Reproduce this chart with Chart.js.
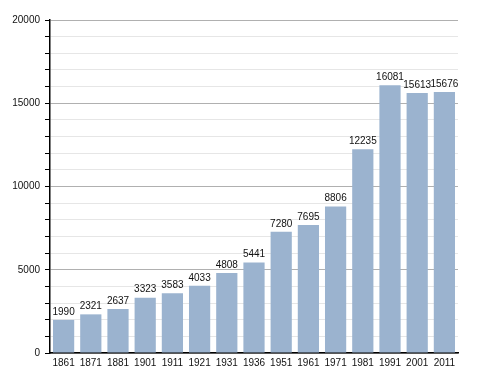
<!DOCTYPE html>
<html>
<head>
<meta charset="utf-8">
<script src="https://cdn.jsdelivr.net/npm/chart.js@4/dist/chart.umd.min.js"></script>
<style>
  html, body { margin: 0; padding: 0; background: #fff; }
  #wrap { width: 488px; height: 373px; }
</style>
</head>
<body>
<div id="wrap"><canvas id="canva1" width="488" height="373"></canvas></div>
<script>
const years = ['1861', '1871', '1881', '1901', '1911', '1921', '1931', '1936', '1951', '1961', '1971', '1981', '1991', '2001', '2011'];
const population = [1990, 2321, 2637, 3323, 3583, 4033, 4808, 5441, 7280, 7695, 8806, 12235, 16081, 15613, 15676];
const yMax = 20000;
const yMajor = 5000;
const yMinor = 1000;

var ctx1 = document.getElementById('canva1').getContext('2d');

// values written above each bar
const barLabels = {
    id: 'barLabels',
    afterDatasetsDraw(chart) {
        const c = chart.ctx;
        const meta = chart.getDatasetMeta(0);
        c.save();
        c.font = '10px "Liberation Sans", Arial, sans-serif';
        c.fillStyle = '#111';
        c.textAlign = 'center';
        c.textBaseline = 'bottom';
        meta.data.forEach((bar, i) => {
            c.fillText(String(population[i]), bar.x, bar.y - 3);
        });
        c.restore();
    }
};

const popChart = new Chart(ctx1, {
    type: 'bar',
    data: {
        labels: years,
        datasets: [{
            data: population,
            backgroundColor: '#9bb3cf',
            borderWidth: 0,
            barPercentage: 0.78,
            categoryPercentage: 1
        }]
    },
    options: {
        responsive: false,
        animation: false,
        layout: { padding: { top: 20, right: 30, left: 0, bottom: 0 } },
        plugins: { legend: { display: false }, tooltip: { enabled: false } },
        scales: {
            x: {
                grid: { display: false, drawTicks: false },
                border: { color: '#000', width: 1.5 },
                ticks: {
                    color: '#111',
                    font: { size: 10, family: '"Liberation Sans", Arial, sans-serif' },
                    padding: 4,
                    maxRotation: 0,
                    autoSkip: false
                },
                afterFit(scale) { scale.height = 20; }
            },
            y: {
                min: 0,
                max: yMax,
                border: { color: '#000', width: 1.5 },
                grid: {
                    color: (c) => (c.tick && c.tick.value % yMajor === 0) ? '#b0b0b0' : '#e6e6e6',
                    tickColor: '#000',
                    tickLength: 5
                },
                ticks: {
                    stepSize: yMinor,
                    color: '#111',
                    font: { size: 10, family: '"Liberation Sans", Arial, sans-serif' },
                    padding: 5,
                    autoSkip: false,
                    callback: (v) => (v % yMajor === 0) ? String(v) : ''
                },
                afterFit(scale) { scale.width = 50; }
            }
        }
    },
    plugins: [barLabels]
});
</script>
</body>
</html>
